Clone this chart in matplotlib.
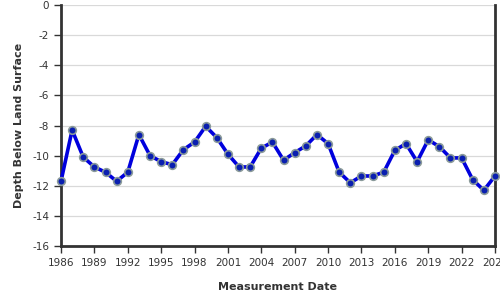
import matplotlib
matplotlib.use("Agg")
import matplotlib.pyplot as plt

plt.rcParams["axes.unicode_minus"] = False

# yearly measurements, depth below land surface
years = list(range(1986, 2026))
depth = [-11.7, -8.3, -10.1, -10.75, -11.1, -11.7, -11.1, -8.6, -10.0, -10.4,
         -10.6, -9.6, -9.1, -8.05, -8.8, -9.9, -10.75, -10.75, -9.5, -9.1,
         -10.3, -9.8, -9.35, -8.6, -9.2, -11.1, -11.8, -11.35, -11.35, -11.1,
         -9.65, -9.2, -10.4, -8.95, -9.4, -10.15, -10.15, -11.6, -12.3, -11.35]
xticks = list(range(1986, 2026, 3))
yticks = list(range(-16, 1, 2))

fig = plt.figure(figsize=(5, 3), dpi=100)
ax = fig.add_axes([0.122, 0.18, 0.868, 0.803])

ax.plot(years, depth, color="#0000dd", lw=2.6, zorder=3,
        marker="o", ms=5.5, mfc="#0a1fb0", mec="#8a9a9a", mew=1.2, clip_on=False)

ax.set_xlim(1986, 2025)
ax.set_ylim(-16, 0)
ax.set_xticks(xticks)
ax.set_yticks(yticks)
ax.tick_params(labelsize=7.5, colors="#333333", length=5, width=1)
ax.grid(axis="y", color="#d9d9d9", lw=0.9)
ax.set_axisbelow(True)

for s in ["left", "bottom", "right"]:
    ax.spines[s].set_linewidth(2)
    ax.spines[s].set_color("#333333")
ax.spines["top"].set_visible(False)

ax.set_xlabel("Measurement Date", fontsize=8, fontweight="bold", color="#333333", labelpad=10)
ax.set_ylabel("Depth Below Land Surface", fontsize=8, fontweight="bold", color="#333333", labelpad=6)

fig.savefig("out.png")
